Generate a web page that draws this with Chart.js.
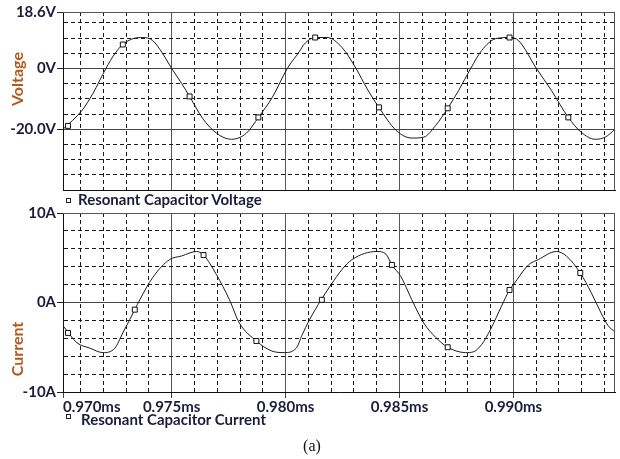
<!DOCTYPE html>
<html>
<head>
<meta charset="utf-8">
<script src="https://cdn.jsdelivr.net/npm/chart.js@4"></script>
<style>
  body { margin: 0; background: #fff; }
  #wrap { position: relative; width: 620px; height: 459px; font-family: Lato, sans-serif; color: #1c1c3a; overflow: hidden; }
  canvas { position: absolute; left: 0; }
  #voltChart { top: 0; }
  #currChart { top: 200px; }
  .ytitle { position: absolute; font-weight: bold; font-size: 16px; color: #b4581c; transform: translate(-50%, -50%) rotate(-90deg); white-space: nowrap; line-height: 1; }
  .legend { position: absolute; font-weight: bold; font-size: 15px; white-space: nowrap; line-height: 1; }
  .sq { position: absolute; width: 3px; height: 3px; border: 1px solid #222; }
  #caption { position: absolute; left: 312px; top: 446px; transform: translate(-50%, -50%); font-family: 'Liberation Serif', serif; font-size: 16px; color: #111; }
</style>
</head>
<body>
<div id="wrap">
  <canvas id="voltChart" width="620" height="200"></canvas>
  <canvas id="currChart" width="620" height="222"></canvas>
  <div class="ytitle" style="left:17px; top:79px;">Voltage</div>
  <div class="ytitle" style="left:17px; top:349px;">Current</div>
  <div class="sq" style="left:66px; top:198px;"></div>
  <div class="legend" style="left:78px; top:192px;">Resonant Capacitor Voltage</div>
  <div class="sq" style="left:66px; top:414px;"></div>
  <div class="legend" style="left:81px; top:412px;">Resonant Capacitor Current</div>
  <div id="caption">(a)</div>
</div>
<script>
// Time axis (ms)
const timeTicks = [0.97023, 0.971, 0.972, 0.973, 0.974, 0.975, 0.976, 0.977, 0.978, 0.979,
  0.980, 0.981, 0.982, 0.983, 0.984, 0.985, 0.986, 0.987, 0.988, 0.989,
  0.990, 0.991, 0.992, 0.993, 0.994];
const timeTickLabels = ['0.970ms', '', '', '', '', '0.975ms', '', '', '', '',
  '0.980ms', '', '', '', '', '0.985ms', '', '', '', '',
  '0.990ms', '', '', '', ''];
const timeMin = 0.97023;
const timeMax = 0.99446;

// Resonant capacitor voltage (V)
const voltTime = [0.970232, 0.971063, 0.971544, 0.972113, 0.972507, 0.972856, 0.973294, 0.973731,
  0.974169, 0.974606, 0.975, 0.975437, 0.975787, 0.976356, 0.976969, 0.977625, 0.978281,
  0.978806, 0.979418, 0.980074, 0.980599, 0.980818, 0.981299, 0.981824, 0.98248, 0.983093,
  0.983574, 0.984099, 0.984843, 0.985543, 0.986067, 0.986592, 0.987117, 0.987599, 0.988124,
  0.988605, 0.989217, 0.98983, 0.990223, 0.991011, 0.991667, 0.99241, 0.992979, 0.993592,
  0.994029, 0.994466];
const voltValue = [-20.0, -13.8, -8.2, 0, 4.9, 7.9, 9.8, 10.2,
  9.2, 4.9, 0, -4.9, -9.2, -16.4, -21.3, -23.3, -21.3,
  -16.1, -9.5, 0, 5.5, 8.0, 10.2, 10.2, 6.9, 0,
  -6.6, -12.8, -20.3, -22.9, -22.6, -18.7, -13.1, -7.2, 0,
  5.9, 9.8, 10.2, 9.2, 0, -7.2, -16.1, -21.0, -23.3,
  -22.6, -20.0];
const voltMarkTime = [0.970451, 0.972856, 0.975787, 0.978806, 0.981299, 0.984099, 0.987117, 0.98983, 0.99241];
const voltMarkValue = [-18.9, 7.9, -9.2, -16.1, 10.2, -12.8, -13.1, 10.2, -16.1];
const voltTicks = [-40, -35, -30, -25, -20, -15, -10, -5, 0, 5, 10, 15, 18.6];
const voltTickLabels = ['', '', '', '', '-20.0V', '', '', '', '0V', '', '', '', '18.6V'];

// Resonant capacitor current (A)
const currTime = [0.970232, 0.970844, 0.971413, 0.971982, 0.972507, 0.972856, 0.973163, 0.973381,
  0.9736, 0.974169, 0.974913, 0.975437, 0.976094, 0.9764, 0.976969, 0.977537, 0.977975,
  0.978718, 0.979374, 0.979943, 0.980468, 0.980731, 0.981037, 0.981562, 0.982, 0.98248,
  0.982918, 0.984011, 0.984405, 0.984668, 0.985061, 0.985543, 0.986067, 0.986592, 0.987117,
  0.987905, 0.988255, 0.988605, 0.988998, 0.98948, 0.98983, 0.990004, 0.990661, 0.991098,
  0.991885, 0.992323, 0.992935, 0.993417, 0.993854, 0.99416, 0.994466];
const currValue = [-2.6, -4.5, -5.1, -5.6, -5.1, -3.4, -1.9, -0.8,
  0.3, 2.8, 4.8, 5.2, 5.7, 5.3, 3.1, 0.3, -2.3,
  -4.3, -5.4, -5.6, -5.1, -3.6, -2.0, 0.3, 2.0, 3.7,
  4.8, 5.7, 5.4, 4.2, 2.9, 0.3, -2.3, -3.9, -5.0,
  -5.6, -5.5, -4.7, -3.0, -0.4, 1.4, 2.0, 4.2, 4.8,
  5.7, 5.2, 3.3, 1.1, -1.2, -2.6, -3.3];
const currMarkTime = [0.970451, 0.973381, 0.9764, 0.978718, 0.981593, 0.984668, 0.987117, 0.98983, 0.992935];
const currMarkValue = [-3.4, -0.8, 5.3, -4.3, 0.3, 4.2, -5.0, 1.4, 3.3];
const currTicks = [-10, -8, -6, -4, -2, 0, 2, 4, 6, 8, 10];
const currTickLabels = ['-10A', '', '', '', '', '0A', '', '', '', '', '10A'];

const ink = '#1c1c3a';
Chart.defaults.font.family = 'Lato, sans-serif';
Chart.defaults.font.size = 15;
Chart.defaults.font.weight = 'bold';

const pts = (xs, ys) => xs.map((x, i) => ({ x: x, y: ys[i] }));

// top and right edges of the plot box
const frame = {
  id: 'frame',
  afterDraw(chart) {
    const { ctx, chartArea: a } = chart;
    ctx.save();
    ctx.strokeStyle = '#555';
    ctx.lineWidth = 1;
    ctx.beginPath();
    ctx.moveTo(a.left, a.top + 0.5);
    ctx.lineTo(a.right - 0.5, a.top + 0.5);
    ctx.lineTo(a.right - 0.5, a.bottom);
    ctx.stroke();
    ctx.restore();
  }
};

function yScale(ticks, labels) {
  return {
    min: ticks[0],
    max: ticks[ticks.length - 1],
    afterBuildTicks: s => { s.ticks = ticks.map(v => ({ value: v })); },
    afterFit: s => { s.width = 63; },
    ticks: { autoSkip: false, color: ink, padding: 1, callback: (v, i) => labels[i] },
    grid: {
      color: c => labels[c.index] ? '#444' : '#1a1a1a',
      tickLength: 6,
      tickColor: c => labels[c.index] ? '#222' : 'rgba(0,0,0,0)'
    },
    border: { color: '#111', dash: c => (c.tick && !labels[c.index]) ? [4, 3] : [] }
  };
}

function xScale(showLabels) {
  return {
    type: 'linear',
    min: timeMin,
    max: timeMax,
    afterBuildTicks: s => { s.ticks = timeTicks.map(v => ({ value: v })); },
    afterFit: s => { s.height = showLabels ? 30 : 0; },
    ticks: { display: showLabels, autoSkip: false, align: 'inner', color: ink, padding: 0,
      maxRotation: 0, callback: (v, i) => timeTickLabels[i] },
    grid: {
      drawTicks: showLabels,
      color: c => timeTickLabels[c.index] ? '#555' : '#1a1a1a',
      tickLength: 6,
      tickColor: c => timeTickLabels[c.index] ? '#444' : 'rgba(0,0,0,0)'
    },
    border: { color: '#111', dash: c => (c.tick && !timeTickLabels[c.index]) ? [4, 3] : [] }
  };
}

function makeChart(id, lineData, markData, ticks, labels, showX, pad) {
  return new Chart(document.getElementById(id), {
    type: 'line',
    data: {
      datasets: [
        {
          data: markData,
          showLine: false,
          pointStyle: 'rect',
          pointRadius: 3.5,
          borderColor: '#111',
          backgroundColor: '#fff',
          borderWidth: 1
        },
        {
          data: lineData,
          borderColor: '#1a1a1a',
          borderWidth: 1,
          pointRadius: 0,
          fill: false,
          cubicInterpolationMode: 'monotone'
        }
      ]
    },
    options: {
      responsive: false,
      animation: false,
      layout: { padding: pad },
      scales: { x: xScale(showX), y: yScale(ticks, labels) },
      plugins: { legend: { display: false }, tooltip: { enabled: false } }
    },
    plugins: [frame]
  });
}

makeChart('voltChart', pts(voltTime, voltValue), pts(voltMarkTime, voltMarkValue),
  voltTicks, voltTickLabels, false, { top: 12, right: 3, bottom: 10, left: 0 });
makeChart('currChart', pts(currTime, currValue), pts(currMarkTime, currMarkValue),
  currTicks, currTickLabels, true, { top: 13, right: 3, bottom: 0, left: 0 });
</script>
</body>
</html>
